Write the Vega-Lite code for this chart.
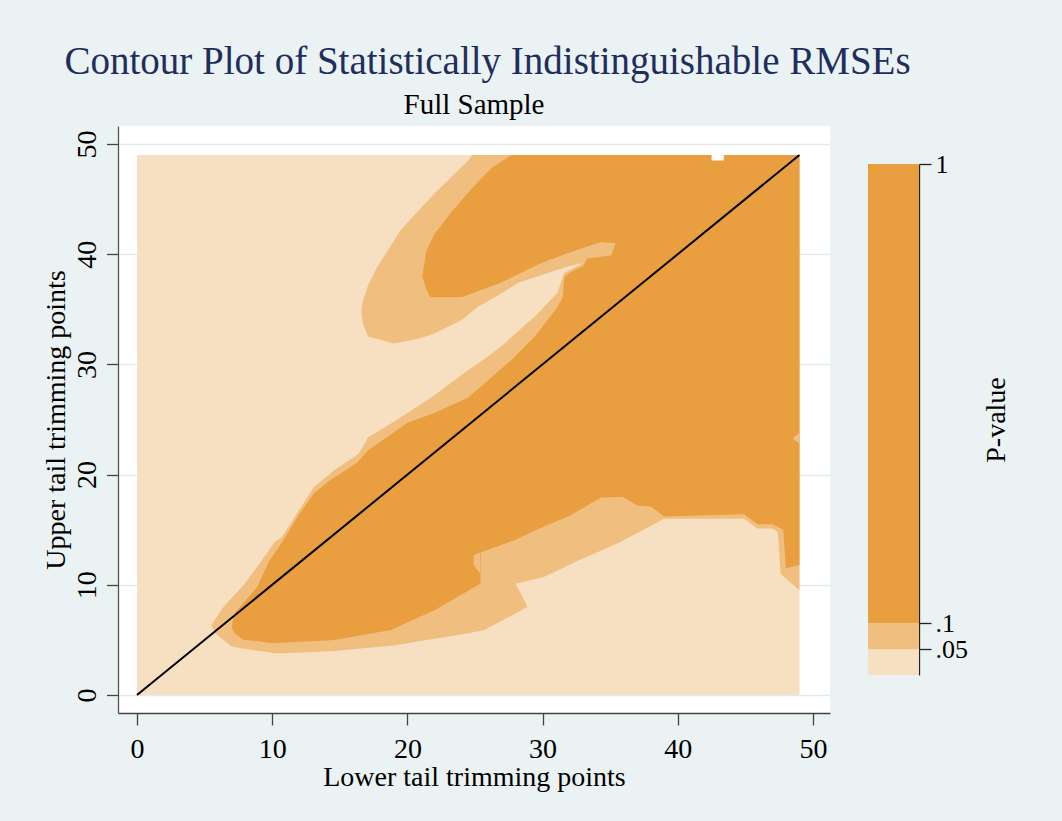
{
  "$schema": "https://vega.github.io/schema/vega-lite/v6.json",
  "background": "#EAF2F3",
  "padding": {"left": 42, "top": 43, "right": 52, "bottom": 30},
  "title": {"text": "Contour Plot of Statistically Indistinguishable RMSEs", "font": "Liberation Serif", "fontSize": 39, "fontWeight": "normal", "color": "#1F2E5C", "anchor": "start", "dx": 22, "offset": 9},
  "config": {
    "view": {"stroke": null},
    "font": "Liberation Serif",
    "axis": {"labelFont": "Liberation Serif", "titleFont": "Liberation Serif", "labelColor": "black", "titleColor": "black", "titleFontWeight": "normal", "labelFontSize": 28, "titleFontSize": 28}
  },
  "datasets": {
    "contour": [
      {"part": "base", "cls": "lt", "x": 0, "lo": 0, "hi": 49},
      {"part": "base", "cls": "lt", "x": 49, "lo": 0, "hi": 49},

      {"part": "M1", "cls": "md", "x": 5.5, "lo": 6.3, "hi": 6.3},
      {"part": "M1", "cls": "md", "x": 5.8, "lo": 5.6, "hi": 6.9},
      {"part": "M1", "cls": "md", "x": 6.4, "lo": 5.0, "hi": 8.0},
      {"part": "M1", "cls": "md", "x": 7.0, "lo": 4.4, "hi": 8.8},
      {"part": "M1", "cls": "md", "x": 7.9, "lo": 4.2, "hi": 10.0},
      {"part": "M1", "cls": "md", "x": 9.1, "lo": 4.0, "hi": 12.0},
      {"part": "M1", "cls": "md", "x": 10.2, "lo": 3.8, "hi": 13.9},
      {"part": "M1", "cls": "md", "x": 10.7, "lo": 3.8, "hi": 14.3},
      {"part": "M1", "cls": "md", "x": 12.1, "lo": 3.85, "hi": 17.0},
      {"part": "M1", "cls": "md", "x": 13.1, "lo": 3.9, "hi": 18.9},
      {"part": "M1", "cls": "md", "x": 14.6, "lo": 4.0, "hi": 20.4},
      {"part": "M1", "cls": "md", "x": 16.4, "lo": 4.2, "hi": 21.9},
      {"part": "M1", "cls": "md", "x": 17.1, "lo": 4.3, "hi": 23.4},
      {"part": "M1", "cls": "md", "x": 19.0, "lo": 4.5, "hi": 24.8},
      {"part": "M1", "cls": "md", "x": 20.0, "lo": 4.7, "hi": 25.6},
      {"part": "M1", "cls": "md", "x": 22.0, "lo": 5.1, "hi": 27.2},
      {"part": "M1", "cls": "md", "x": 24.5, "lo": 5.6, "hi": 29.5},
      {"part": "M1", "cls": "md", "x": 25.7, "lo": 5.9, "hi": 30.5},
      {"part": "M1", "cls": "md", "x": 26.9, "lo": 6.7, "hi": 31.6},
      {"part": "M1", "cls": "md", "x": 28.0, "lo": 7.4, "hi": 32.8},
      {"part": "M1", "cls": "md", "x": 28.9, "lo": 8.0, "hi": 33.8},
      {"part": "M1", "cls": "md", "x": 28.95, "lo": 10.4, "hi": 33.85},
      {"part": "M1", "cls": "md", "x": 29.4, "lo": 10.5, "hi": 34.3},
      {"part": "M1", "cls": "md", "x": 30.1, "lo": 10.7, "hi": 35.2},
      {"part": "M1", "cls": "md", "x": 31.1, "lo": 11.3, "hi": 36.5},
      {"part": "M1", "cls": "md", "x": 31.6, "lo": 11.6, "hi": 38.3},
      {"part": "M1", "cls": "md", "x": 32.3, "lo": 12.0, "hi": 38.75},
      {"part": "M1", "cls": "md", "x": 33.0, "lo": 12.4, "hi": 39.2},
      {"part": "M1", "cls": "md", "x": 33.05, "lo": 12.4, "hi": 49},
      {"part": "M1", "cls": "md", "x": 35.6, "lo": 13.8, "hi": 49},
      {"part": "M1", "cls": "md", "x": 39.0, "lo": 16.0, "hi": 49},
      {"part": "M1", "cls": "md", "x": 44.9, "lo": 16.0, "hi": 49},
      {"part": "M1", "cls": "md", "x": 45.9, "lo": 15.1, "hi": 49},
      {"part": "M1", "cls": "md", "x": 47.0, "lo": 15.1, "hi": 49},
      {"part": "M1", "cls": "md", "x": 47.4, "lo": 14.8, "hi": 49},
      {"part": "M1", "cls": "md", "x": 47.6, "lo": 11.0, "hi": 49},
      {"part": "M1", "cls": "md", "x": 49.0, "lo": 9.5, "hi": 49},

      {"part": "M2", "cls": "md", "x": 16.6, "lo": 34.9, "hi": 34.9},
      {"part": "M2", "cls": "md", "x": 16.7, "lo": 33.7, "hi": 35.7},
      {"part": "M2", "cls": "md", "x": 17.1, "lo": 32.5, "hi": 37.2},
      {"part": "M2", "cls": "md", "x": 17.8, "lo": 32.3, "hi": 38.9},
      {"part": "M2", "cls": "md", "x": 19.0, "lo": 31.9, "hi": 41.2},
      {"part": "M2", "cls": "md", "x": 19.5, "lo": 32.0, "hi": 42.2},
      {"part": "M2", "cls": "md", "x": 21.0, "lo": 32.4, "hi": 44.2},
      {"part": "M2", "cls": "md", "x": 22.0, "lo": 32.8, "hi": 45.5},
      {"part": "M2", "cls": "md", "x": 24.0, "lo": 34.0, "hi": 47.9},
      {"part": "M2", "cls": "md", "x": 24.5, "lo": 34.5, "hi": 48.5},
      {"part": "M2", "cls": "md", "x": 24.8, "lo": 34.8, "hi": 49},
      {"part": "M2", "cls": "md", "x": 25.2, "lo": 35.2, "hi": 49},
      {"part": "M2", "cls": "md", "x": 26.9, "lo": 36.4, "hi": 49},
      {"part": "M2", "cls": "md", "x": 28.2, "lo": 37.4, "hi": 49},
      {"part": "M2", "cls": "md", "x": 31.9, "lo": 38.9, "hi": 49},
      {"part": "M2", "cls": "md", "x": 33.0, "lo": 39.2, "hi": 49},
      {"part": "M2", "cls": "md", "x": 33.1, "lo": 39.3, "hi": 49},

      {"part": "LN", "cls": "lt", "x": 28.0, "lo": 10.1, "hi": 10.1},
      {"part": "LN", "cls": "lt", "x": 28.9, "lo": 8.0, "hi": 10.35},
      {"part": "LN", "cls": "lt", "x": 28.97, "lo": 8.0, "hi": 10.42},

      {"part": "D1", "cls": "dk", "x": 7.0, "lo": 6.2, "hi": 6.2},
      {"part": "D1", "cls": "dk", "x": 7.2, "lo": 5.6, "hi": 7.4},
      {"part": "D1", "cls": "dk", "x": 7.9, "lo": 5.0, "hi": 8.4},
      {"part": "D1", "cls": "dk", "x": 8.9, "lo": 4.9, "hi": 9.8},
      {"part": "D1", "cls": "dk", "x": 9.7, "lo": 4.75, "hi": 12.0},
      {"part": "D1", "cls": "dk", "x": 10.1, "lo": 4.7, "hi": 12.7},
      {"part": "D1", "cls": "dk", "x": 10.7, "lo": 4.74, "hi": 13.8},
      {"part": "D1", "cls": "dk", "x": 12.1, "lo": 4.83, "hi": 16.6},
      {"part": "D1", "cls": "dk", "x": 13.1, "lo": 4.9, "hi": 18.3},
      {"part": "D1", "cls": "dk", "x": 14.3, "lo": 4.98, "hi": 19.5},
      {"part": "D1", "cls": "dk", "x": 14.6, "lo": 5.0, "hi": 19.74},
      {"part": "D1", "cls": "dk", "x": 16.3, "lo": 5.36, "hi": 21.1},
      {"part": "D1", "cls": "dk", "x": 17.1, "lo": 5.53, "hi": 22.2},
      {"part": "D1", "cls": "dk", "x": 18.8, "lo": 5.9, "hi": 23.67},
      {"part": "D1", "cls": "dk", "x": 20.0, "lo": 6.58, "hi": 24.7},
      {"part": "D1", "cls": "dk", "x": 22.0, "lo": 7.7, "hi": 25.6},
      {"part": "D1", "cls": "dk", "x": 24.5, "lo": 9.46, "hi": 27.0},
      {"part": "D1", "cls": "dk", "x": 24.9, "lo": 9.75, "hi": 27.43},
      {"part": "D1", "cls": "dk", "x": 25.4, "lo": 10.1, "hi": 27.96},
      {"part": "D1", "cls": "dk", "x": 25.45, "lo": 12.95, "hi": 28.0},
      {"part": "D1", "cls": "dk", "x": 26.9, "lo": 13.6, "hi": 29.55},
      {"part": "D1", "cls": "dk", "x": 27.7, "lo": 13.96, "hi": 30.4},
      {"part": "D1", "cls": "dk", "x": 28.0, "lo": 14.1, "hi": 30.77},
      {"part": "D1", "cls": "dk", "x": 29.4, "lo": 14.9, "hi": 32.5},
      {"part": "D1", "cls": "dk", "x": 30.1, "lo": 15.3, "hi": 33.6},
      {"part": "D1", "cls": "dk", "x": 31.1, "lo": 15.8, "hi": 35.2},
      {"part": "D1", "cls": "dk", "x": 31.5, "lo": 16.0, "hi": 36.1},
      {"part": "D1", "cls": "dk", "x": 31.6, "lo": 16.05, "hi": 37.9},
      {"part": "D1", "cls": "dk", "x": 31.9, "lo": 16.2, "hi": 38.2},
      {"part": "D1", "cls": "dk", "x": 32.1, "lo": 16.34, "hi": 38.4},
      {"part": "D1", "cls": "dk", "x": 33.0, "lo": 16.98, "hi": 38.9},
      {"part": "D1", "cls": "dk", "x": 33.3, "lo": 17.19, "hi": 39.6},
      {"part": "D1", "cls": "dk", "x": 34.3, "lo": 17.9, "hi": 39.77},
      {"part": "D1", "cls": "dk", "x": 35.1, "lo": 17.95, "hi": 39.9},
      {"part": "D1", "cls": "dk", "x": 35.4, "lo": 17.97, "hi": 41.0},
      {"part": "D1", "cls": "dk", "x": 35.45, "lo": 17.97, "hi": 49},
      {"part": "D1", "cls": "dk", "x": 35.9, "lo": 18.0, "hi": 49},
      {"part": "D1", "cls": "dk", "x": 37.0, "lo": 17.2, "hi": 49},
      {"part": "D1", "cls": "dk", "x": 38.0, "lo": 17.1, "hi": 49},
      {"part": "D1", "cls": "dk", "x": 39.0, "lo": 16.2, "hi": 49},
      {"part": "D1", "cls": "dk", "x": 44.9, "lo": 16.4, "hi": 49},
      {"part": "D1", "cls": "dk", "x": 45.9, "lo": 15.5, "hi": 49},
      {"part": "D1", "cls": "dk", "x": 47.0, "lo": 15.5, "hi": 49},
      {"part": "D1", "cls": "dk", "x": 47.8, "lo": 15.0, "hi": 49},
      {"part": "D1", "cls": "dk", "x": 48.0, "lo": 11.5, "hi": 49},
      {"part": "D1", "cls": "dk", "x": 49.0, "lo": 11.8, "hi": 49},

      {"part": "D2", "cls": "dk", "x": 21.1, "lo": 38.0, "hi": 38.0},
      {"part": "D2", "cls": "dk", "x": 21.4, "lo": 36.8, "hi": 40.3},
      {"part": "D2", "cls": "dk", "x": 21.7, "lo": 36.1, "hi": 41.05},
      {"part": "D2", "cls": "dk", "x": 22.0, "lo": 36.1, "hi": 41.8},
      {"part": "D2", "cls": "dk", "x": 23.3, "lo": 36.1, "hi": 43.9},
      {"part": "D2", "cls": "dk", "x": 24.0, "lo": 36.1, "hi": 44.88},
      {"part": "D2", "cls": "dk", "x": 24.8, "lo": 36.46, "hi": 46.0},
      {"part": "D2", "cls": "dk", "x": 26.2, "lo": 37.09, "hi": 47.8},
      {"part": "D2", "cls": "dk", "x": 26.9, "lo": 37.4, "hi": 48.36},
      {"part": "D2", "cls": "dk", "x": 27.7, "lo": 37.88, "hi": 49},
      {"part": "D2", "cls": "dk", "x": 29.9, "lo": 39.2, "hi": 49},
      {"part": "D2", "cls": "dk", "x": 31.9, "lo": 40.1, "hi": 49},
      {"part": "D2", "cls": "dk", "x": 34.3, "lo": 41.1, "hi": 49},
      {"part": "D2", "cls": "dk", "x": 35.4, "lo": 41.0, "hi": 49},
      {"part": "D2", "cls": "dk", "x": 35.5, "lo": 41.0, "hi": 49},

      {"part": "MP1", "cls": "md", "x": 24.9, "lo": 11.8, "hi": 12.7},
      {"part": "MP1", "cls": "md", "x": 25.4, "lo": 11.0, "hi": 12.93},
      {"part": "MP2", "cls": "md", "x": 48.5, "lo": 23.3, "hi": 23.3},
      {"part": "MP2", "cls": "md", "x": 49.0, "lo": 22.8, "hi": 23.8},

      {"part": "W", "cls": "na", "x": 42.5, "lo": 48.5, "hi": 49},
      {"part": "W", "cls": "na", "x": 43.4, "lo": 48.5, "hi": 49}
    ],
    "diag": [
      {"x": 0, "lo": 0},
      {"x": 49, "lo": 49}
    ],
    "legend": [
      {"pmin": 0, "pmax": 0.05, "cls": "lt"},
      {"pmin": 0.05, "pmax": 0.1, "cls": "md"},
      {"pmin": 0.1, "pmax": 1, "cls": "dk"}
    ]
  },
  "hconcat": [
    {
      "width": 712,
      "height": 587,
      "view": {"fill": "white", "stroke": null},
      "title": {"text": "Full Sample", "font": "Liberation Serif", "fontSize": 29, "fontWeight": "normal", "color": "black", "anchor": "middle", "offset": 6},
      "data": {"name": "contour"},
      "encoding": {
        "x": {
          "field": "x", "type": "quantitative",
          "scale": {"domain": [-1.405, 51.26], "nice": false, "zero": false},
          "axis": {"values": [0, 10, 20, 30, 40, 50], "grid": false, "tickSize": 12, "labelPadding": 10, "labelFlush": false, "labelOverlap": false, "title": "Lower tail trimming points", "titlePadding": 0, "domainColor": "#444444", "tickColor": "#444444", "domainWidth": 1.3, "tickWidth": 1.3}
        },
        "y": {
          "field": "lo", "type": "quantitative", "stack": null,
          "scale": {"domain": [-1.63, 51.63], "nice": false, "zero": false},
          "axis": {"values": [0, 10, 20, 30, 40, 50], "grid": true, "gridColor": "#E2ECEE", "gridWidth": 1.5, "tickSize": 11.5, "labelAngle": 270, "labelAlign": "center", "labelBaseline": "bottom", "labelPadding": 5, "labelFlush": false, "labelOverlap": false, "title": "Upper tail trimming points", "titleAngle": 270, "titleBaseline": "bottom", "titlePadding": 3, "domainColor": "#555555", "tickColor": "#444444", "domainWidth": 1.3, "tickWidth": 1.3}
        },
        "color": {
          "field": "cls", "type": "nominal",
          "scale": {"domain": ["lt", "md", "dk", "na"], "range": ["#F7DFC1", "#F0BF80", "#E99E40", "#FFFFFF"]},
          "legend": null
        }
      },
      "layer": [
        {"transform": [{"filter": {"field": "part", "oneOf": ["base"]}}], "mark": {"type": "area", "interpolate": "linear"}, "encoding": {"y2": {"field": "hi"}}},
        {"transform": [{"filter": {"field": "part", "oneOf": ["M1", "M2"]}}], "mark": {"type": "area", "interpolate": "linear"}, "encoding": {"y2": {"field": "hi"}, "detail": {"field": "part"}}},
        {"transform": [{"filter": {"field": "part", "oneOf": ["LN"]}}], "mark": {"type": "area", "interpolate": "linear"}, "encoding": {"y2": {"field": "hi"}}},
        {"transform": [{"filter": {"field": "part", "oneOf": ["D1", "D2"]}}], "mark": {"type": "area", "interpolate": "linear"}, "encoding": {"y2": {"field": "hi"}, "detail": {"field": "part"}}},
        {"transform": [{"filter": {"field": "part", "oneOf": ["MP1", "MP2"]}}], "mark": {"type": "area", "interpolate": "linear"}, "encoding": {"y2": {"field": "hi"}, "detail": {"field": "part"}}},
        {"transform": [{"filter": {"field": "part", "oneOf": ["W"]}}], "mark": {"type": "area", "interpolate": "linear"}, "encoding": {"y2": {"field": "hi"}}},
        {"data": {"name": "diag"}, "mark": {"type": "line", "strokeWidth": 2}, "encoding": {"color": {"value": "black"}}}
      ]
    },
    {
      "width": 51,
      "height": 587,
      "view": {"fill": null, "stroke": null},
      "data": {"name": "legend"},
      "mark": "rect",
      "encoding": {
        "y": {
          "field": "pmin", "type": "quantitative",
          "scale": {"domain": [0, 0.05, 0.1, 1], "range": [549, 523.3, 497.3, 38]},
          "axis": {"orient": "right", "values": [0.05, 0.1, 1], "labelExpr": "datum.value == 1 ? '1' : (datum.value == 0.1 ? '.1' : '.05')", "grid": false, "tickSize": 12, "labelPadding": 4, "labelAlign": "left", "labelBaseline": "middle", "labelFontSize": 26, "labelFlush": false, "labelOverlap": false, "domainColor": "#222222", "tickColor": "#222222", "domainWidth": 1.3, "tickWidth": 1.3, "title": "P-value", "titleAngle": 270, "titleBaseline": "top", "titlePadding": 15}
        },
        "y2": {"field": "pmax"},
        "color": {
          "field": "cls", "type": "nominal",
          "scale": {"domain": ["lt", "md", "dk", "na"], "range": ["#F7DFC1", "#F0BF80", "#E99E40", "#FFFFFF"]},
          "legend": null
        }
      }
    }
  ],
  "spacing": 38
}
